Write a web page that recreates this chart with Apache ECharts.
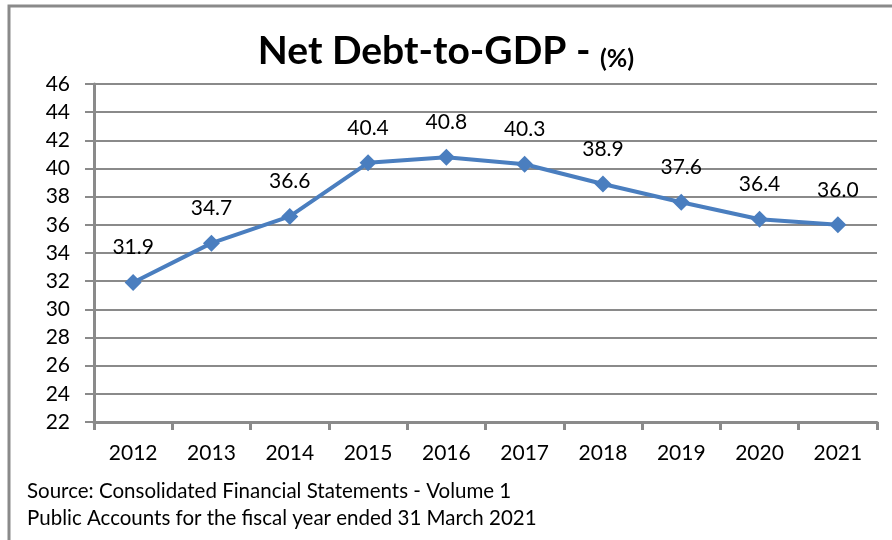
<!DOCTYPE html>
<html><head><meta charset="utf-8">
<script src="https://cdn.jsdelivr.net/npm/echarts@6/dist/echarts.min.js"></script>
<style>html,body{margin:0;padding:0;background:#fff}#c{width:892px;height:540px}</style>
</head><body><div id="c"></div>
<script>
const years = ['2012','2013','2014','2015','2016','2017','2018','2019','2020','2021'];
const netDebt = [31.9, 34.7, 36.6, 40.4, 40.8, 40.3, 38.9, 37.6, 36.4, 36.0];
const yMin = 22, yMax = 46, yStep = 2;
const sourceLines = ['Source: Consolidated Financial Statements - Volume 1','Public Accounts for the fiscal year ended 31 March 2021'];
const FONT = 'Lato, "Open Sans", sans-serif';
const chart = echarts.init(document.getElementById('c'));
chart.setOption({
  animation:false,
  backgroundColor:'#fff',
  title:{
    text:'{a|Net Debt-to-GDP - }{b|(%)}',
    left:'center', top:27,
    textStyle:{rich:{
      a:{fontSize:39,fontWeight:'bold',color:'#000',fontFamily:FONT},
      b:{fontSize:25,fontWeight:'bold',color:'#000',fontFamily:FONT,verticalAlign:'bottom'}
    }}
  },
  grid:{left:94,right:15,top:84,bottom:118},
  xAxis:{
    type:'category', data:years, boundaryGap:true,
    axisLine:{lineStyle:{color:'#8a8a8a',width:3}},
    axisTick:{show:true,length:8,lineStyle:{color:'#8a8a8a',width:3}},
    axisLabel:{color:'#000',fontSize:21,fontFamily:FONT,margin:21}
  },
  yAxis:{
    type:'value', min:yMin, max:yMax, interval:yStep,
    axisLine:{show:true,lineStyle:{color:'#8a8a8a',width:3}},
    axisTick:{show:true,length:9,lineStyle:{color:'#8a8a8a',width:2}},
    axisLabel:{color:'#000',fontSize:21,fontFamily:FONT,margin:24},
    splitLine:{lineStyle:{color:'#8a8a8a',width:2}}
  },
  series:[{
    type:'line', data:netDebt,
    symbol:'diamond', symbolSize:17,
    lineStyle:{color:'#4a7ebf',width:4},
    itemStyle:{color:'#4a7ebf'},
    label:{show:true,position:'top',distance:16,color:'#000',fontSize:21,fontFamily:FONT,
      formatter:p=>p.value.toFixed(1)}
  }],
  graphic:[
    {type:'rect',shape:{x:9,y:6,width:900,height:600},style:{fill:'none',stroke:'#8a8a8a',lineWidth:3},silent:true},
    {type:'text',left:27,top:481,style:{text:sourceLines[0],font:'20.5px '+FONT,fill:'#000'}},
    {type:'text',left:27,top:508,style:{text:sourceLines[1],font:'20.5px '+FONT,fill:'#000'}}
  ]
});
</script></body></html>
